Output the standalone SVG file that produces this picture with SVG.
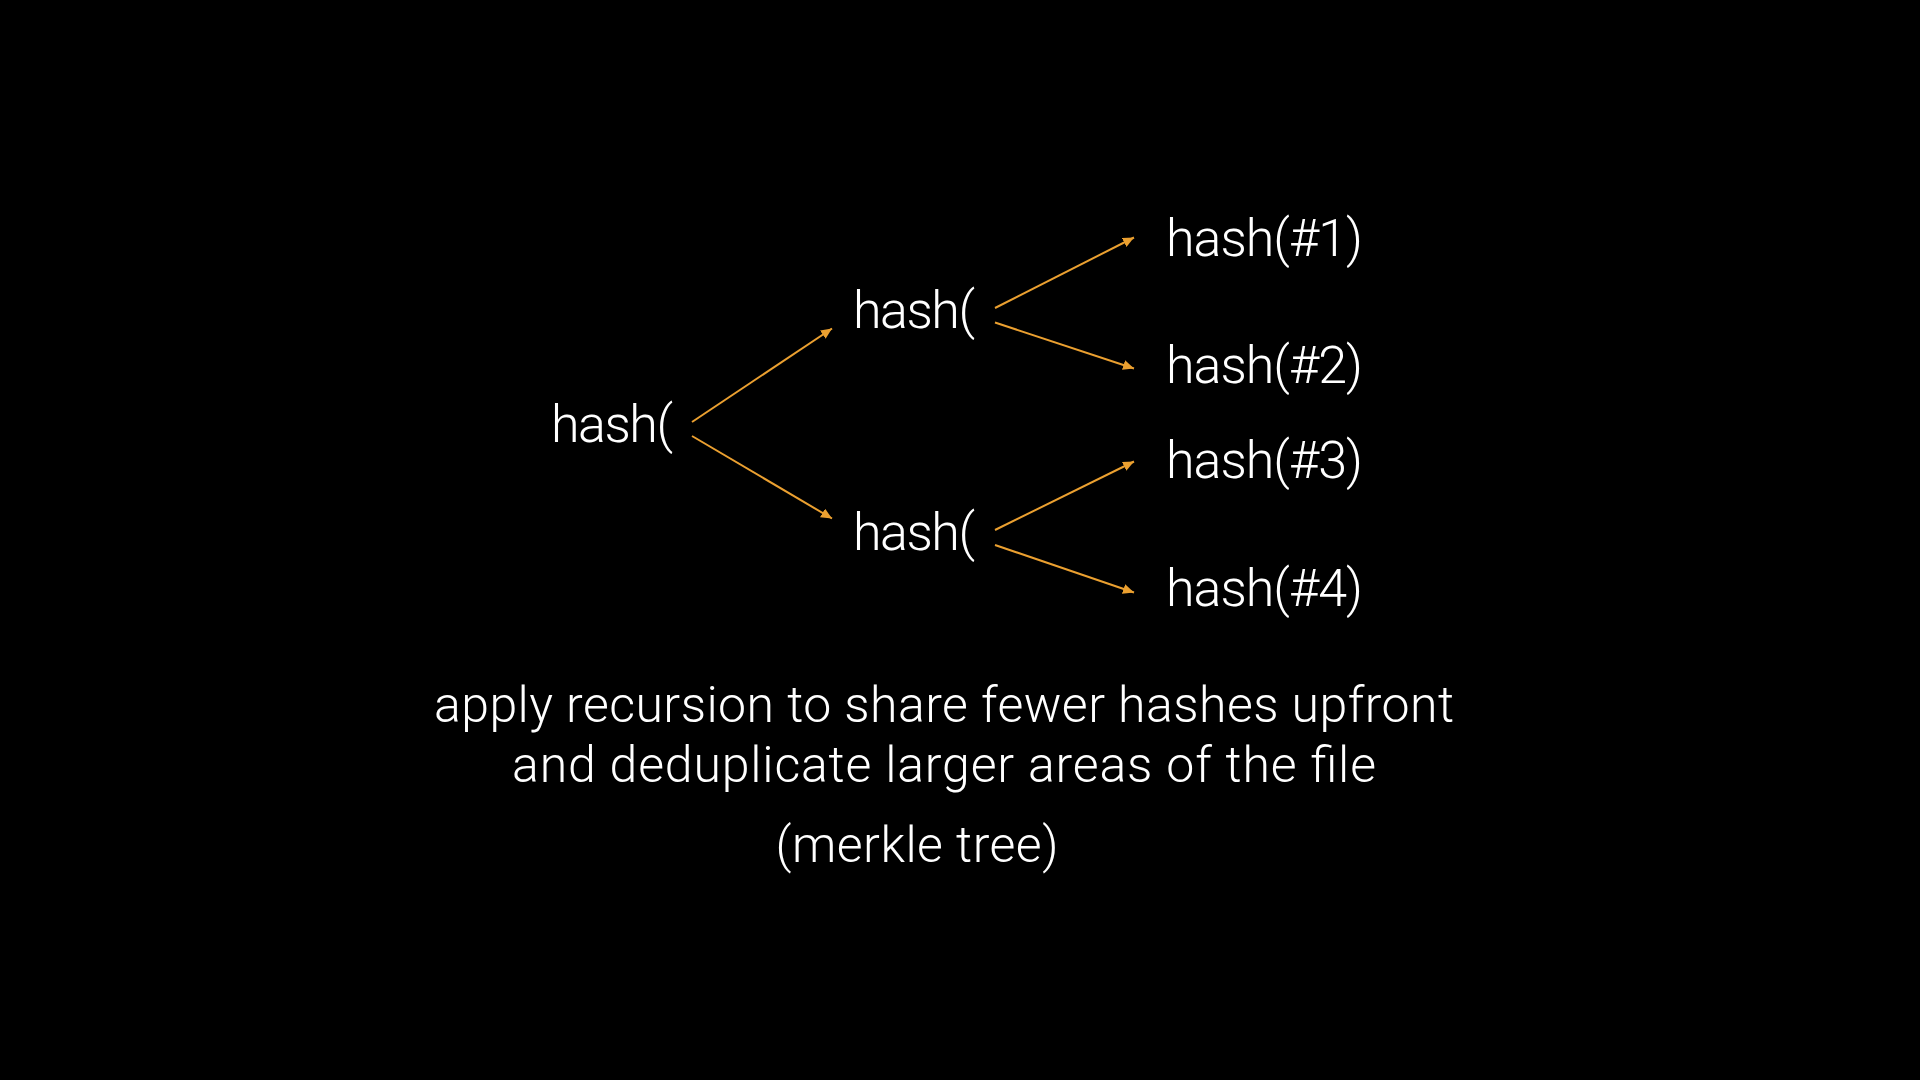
<svg xmlns="http://www.w3.org/2000/svg" width="1920" height="1080" viewBox="0 0 1920 1080">
  <style>
    .t { fill: #ffffff; font-family: Roboto, "Liberation Sans", Arial, sans-serif; font-weight: 300; font-size: 52px; }
    .b { fill: #ffffff; font-family: Roboto, "Liberation Sans", Arial, sans-serif; font-weight: 300; font-size: 50px; text-anchor: middle; }
    .c { stroke: #EBA030; stroke-width: 2; fill: none; marker-end: url(#ah); }
  </style>
  <defs>
    <marker id="ah" markerUnits="userSpaceOnUse" markerWidth="12" markerHeight="10" refX="11" refY="5" orient="auto">
      <path d="M0,0 L11,5 L0,10 Z" fill="#EBA030"/>
    </marker>
  </defs>
  <rect x="0" y="0" width="1920" height="1080" fill="#000000"/>

  <g id="connectors">
    <line class="c" x1="692" y1="422" x2="832" y2="328.5"/>
    <line class="c" x1="692" y1="436" x2="832" y2="518.5"/>
    <line class="c" x1="995" y1="308" x2="1134" y2="237.5"/>
    <line class="c" x1="995" y1="322.5" x2="1134" y2="368.5"/>
    <line class="c" x1="995" y1="530" x2="1134" y2="461.5"/>
    <line class="c" x1="995" y1="545" x2="1134" y2="592.5"/>
  </g>

  <g id="root"><text class="t" x="551" y="442" textLength="122">hash(</text></g>
  <g id="mid-top"><text class="t" x="853" y="328" textLength="122">hash(</text></g>
  <g id="mid-bottom"><text class="t" x="853" y="549.5" textLength="122">hash(</text></g>
  <g id="leaf-1"><text class="t" x="1166" y="255.5" textLength="197">hash(#1)</text></g>
  <g id="leaf-2"><text class="t" x="1166" y="383" textLength="197">hash(#2)</text></g>
  <g id="leaf-3"><text class="t" x="1166" y="478" textLength="197">hash(#3)</text></g>
  <g id="leaf-4"><text class="t" x="1166" y="606" textLength="197">hash(#4)</text></g>

  <g id="caption">
    <text class="b" x="944" y="722" textLength="1020">apply recursion to share fewer hashes upfront</text>
    <text class="b" x="944" y="782" textLength="864">and deduplicate larger areas of the file</text>
    <text class="b" x="917" y="862" textLength="283">(merkle tree)</text>
  </g>
</svg>
